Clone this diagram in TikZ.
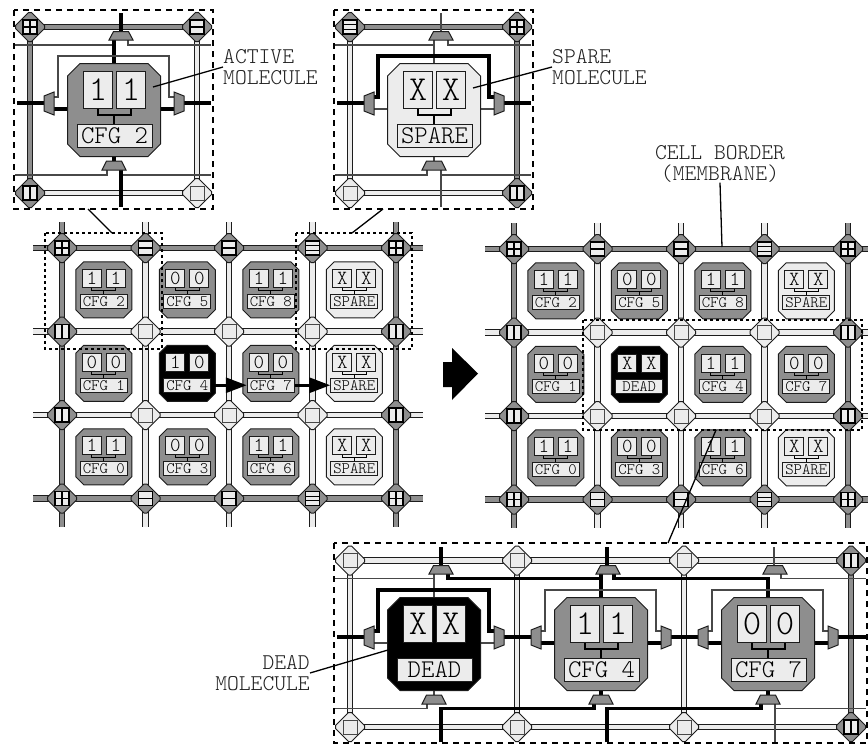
\documentclass[tikz,border=0pt]{standalone}
\usepackage{tikz}
\usetikzlibrary{arrows.meta}
\definecolor{my_gray}{HTML}{8E8E8E}
\definecolor{my_light}{HTML}{ECECEC}
\definecolor{my_edge}{HTML}{1C1C1C}
\definecolor{my_thin}{HTML}{484848}
\definecolor{my_text}{HTML}{202020}

\tikzset{
    wire/.style={draw=my_edge, line width=1.1pt, double=#1, double distance=4.2pt},
    routerbody/.style={draw=my_edge, line width=1pt, fill=#1},
    pane/.style={draw=black, line width=1.1pt, fill=my_light},
    emptypane/.style={draw=my_thin, line width=1pt, fill=my_light},
    cellbody/.style={draw=my_edge, line width=1pt, fill=#1},
    muxbody/.style={draw=my_edge, line width=1pt, fill=my_gray},
    thicksig/.style={black, line width=3.2pt, line cap=butt},
    thinsig/.style={my_thin, line width=1.1pt},
    bracket/.style={black, line width=1.2pt},
    digitsmall/.style={draw=my_edge, line width=1pt, fill=my_light, minimum width=19pt, minimum height=18pt,
        inner sep=0pt, font=\ttfamily\fontseries{l}\fontsize{20}{20}\selectfont},
    labelsmall/.style={draw=my_edge, line width=1pt, fill=my_light, minimum width=47pt, minimum height=14pt,
        inner sep=0pt, font=\ttfamily\fontseries{l}\fontsize{16}{16}\selectfont},
    digitbig/.style={draw=my_edge, line width=1pt, fill=my_light, minimum width=29pt, minimum height=37pt,
        inner sep=0pt, font=\ttfamily\fontseries{l}\fontsize{35}{35}\selectfont},
    labelbig/.style={draw=my_edge, line width=1pt, fill=my_light, minimum width=75pt, minimum height=23pt,
        inner sep=0pt, font=\ttfamily\fontseries{l}\fontsize{25.5}{25.5}\selectfont},
    calltext/.style={text=my_text, inner sep=0pt, font=\ttfamily\fontseries{l}\fontsize{22.5}{21}\selectfont},
    leader/.style={black, line width=1.3pt},
    dashbox/.style={black, line width=1.6pt, dash pattern=on 6pt off 5pt},
    dotbox/.style={black, line width=1.6pt, dash pattern=on 3pt off 3pt},
    shiftarrow/.style={black, line width=3pt, -{Triangle[length=21pt, width=15pt]}}
}

% ---- Router glyphs (one per configuration) ----
\newcommand{\GlyphP}{\draw[pane] (-7,-7) rectangle (7,7); \draw[pane] (-7,0) -- (7,0); \draw[pane] (0,-7) -- (0,7);}
\newcommand{\GlyphH}{\draw[pane] (-7,-7) rectangle (7,7); \draw[pane] (-7,0) -- (7,0);}
\newcommand{\GlyphT}{\draw[pane] (-7,-7) rectangle (7,7); \draw[pane] (-7,-2.4) -- (7,-2.4); \draw[pane] (-7,2.4) -- (7,2.4);}
\newcommand{\GlyphV}{\draw[pane] (-7,-7) rectangle (7,7); \draw[pane] (0,-7) -- (0,7);}
\newcommand{\GlyphE}{\draw[emptypane] (-7,-7) rectangle (7,7);}

% #1 x, #2 y, #3 fill, #4 glyph letter
\newcommand{\Router}[4]{
    \begin{scope}[shift={(#1,#2)}]
        \draw[routerbody=#3] (-14.5,-1.5) -- (-1.5,-14.5) -- (1.5,-14.5) -- (14.5,-1.5)
            -- (14.5,1.5) -- (1.5,14.5) -- (-1.5,14.5) -- (-14.5,1.5) -- cycle;
        \csname Glyph#4\endcsname
    \end{scope}
}

% #1 name, #2 col, #3 row, #4 fill, #5 #6 digits, #7 label
\newcommand{\SmallCell}[7]{
    \begin{scope}[shift={({#2*83.5+41.75},{#3*83.5+41.75})}]
        \draw[cellbody=#4] (-20,-28) -- (20,-28) -- (28,-20) -- (28,20) -- (20,28)
            -- (-20,28) -- (-28,20) -- (-28,-20) -- cycle;
        \draw[bracket] (-12,-2) -- (-12,1) -- (12,1) -- (12,-2) (0,1) -- (0,5);
        \node[digitsmall] (#1a) at (-12,-11) {#5};
        \node[digitsmall] (#1b) at (12,-11) {#6};
        \node[labelsmall] (#1) at (0,12) {#7};
    \end{scope}
}

% #1 name, #2 cx, #3 cy, #4 fill, #5 #6 digits, #7 label, #8 loop style
\newcommand{\BigCell}[8]{
    \begin{scope}[shift={(#2,#3)}]
        \draw[#8] (-60,-13) -- (-56,-13) -- (-56,-54) -- (55,-54) -- (55,-13) -- (60,-13);
        \draw[cellbody=#4] (-34,-46.5) -- (34,-46.5) -- (46.5,-34) -- (46.5,34) -- (34,46.5)
            -- (-34,46.5) -- (-46.5,34) -- (-46.5,-34) -- cycle;
        \draw[bracket] (-16,-2) -- (-16,5) -- (17,5) -- (17,-2) (0,5) -- (0,14);
        \node[digitbig] (#1a) at (-16,-20.5) {#5};
        \node[digitbig] (#1b) at (17,-20.5) {#6};
        \node[labelbig] (#1) at (0.5,25.5) {#7};
    \end{scope}
}

% #1 cx, #2 cy: the four multiplexers round one molecule
\newcommand{\MuxSet}[2]{
    \begin{scope}[shift={(#1,#2)}]
        \draw[muxbody] (-0.5,-78.5) -- (14.5,-78.5) -- (19,-70) -- (-5,-70) -- cycle;
        \draw[muxbody] (-7.5,51) -- (7.5,51) -- (12,60) -- (-12,60) -- cycle;
        \draw[muxbody] (-70,-14) -- (-60,-18) -- (-60,5) -- (-70,1) -- cycle;
        \draw[muxbody] (70,-14) -- (60,-18) -- (60,5) -- (70,1) -- cycle;
    \end{scope}
}

% #1 x0, #2 y0: membrane wires and routers of one fabric
\newcommand{\Fabric}[2]{
    \begin{scope}[shift={(#1,#2)}]
        \foreach \row/\tone in {0/my_gray, 1/my_light, 2/my_light, 3/my_gray}
            \draw[wire=\tone] (-29,{\row*83.5}) -- (361,{\row*83.5});
        \foreach \col/\tone in {0/my_gray, 1/my_light, 2/my_light, 3/my_light, 4/my_gray}
            \draw[wire=\tone] ({\col*83.5},-26) -- ({\col*83.5},279);
        \foreach \col/\kind in {0/P, 1/H, 2/H, 3/T, 4/P} {
            \Router{\col*83.5}{0}{my_gray}{\kind}
            \Router{\col*83.5}{250.5}{my_gray}{\kind}
        }
        \foreach \row in {83.5, 167} {
            \Router{0}{\row}{my_gray}{V}
            \Router{83.5}{\row}{my_light}{E}
            \Router{167}{\row}{my_light}{E}
            \Router{250.5}{\row}{my_light}{E}
            \Router{334}{\row}{my_gray}{V}
        }
    \end{scope}
}

\begin{document}
\begin{tikzpicture}[x=1pt, y=-1pt]

\clip (0,0) rectangle (868,744);

% ---- Left fabric, before the fault ----
\Fabric{62}{248}
\begin{scope}[shift={(62,248)}]
    \SmallCell{lCfgTwo}{0}{0}{my_gray}{1}{1}{CFG 2}
    \SmallCell{lCfgFive}{1}{0}{my_gray}{0}{0}{CFG 5}
    \SmallCell{lCfgEight}{2}{0}{my_gray}{1}{1}{CFG 8}
    \SmallCell{lSpareA}{3}{0}{my_light}{X}{X}{SPARE}
    \SmallCell{lCfgOne}{0}{1}{my_gray}{0}{0}{CFG 1}
    \SmallCell{lCfgFour}{1}{1}{black}{1}{0}{CFG 4}
    \SmallCell{lCfgSeven}{2}{1}{my_gray}{0}{0}{CFG 7}
    \SmallCell{lSpareB}{3}{1}{my_light}{X}{X}{SPARE}
    \SmallCell{lCfgZero}{0}{2}{my_gray}{1}{1}{CFG 0}
    \SmallCell{lCfgThree}{1}{2}{my_gray}{0}{0}{CFG 3}
    \SmallCell{lCfgSix}{2}{2}{my_gray}{1}{1}{CFG 6}
    \SmallCell{lSpareC}{3}{2}{my_light}{X}{X}{SPARE}
\end{scope}
\draw[shiftarrow] (lCfgFour.east) -- (lCfgSeven.west);
\draw[shiftarrow] (lCfgSeven.east) -- (lSpareB.west);

% ---- Right fabric, after the shift ----
\Fabric{514}{249}
\begin{scope}[shift={(514,249)}]
    \SmallCell{rCfgTwo}{0}{0}{my_gray}{1}{1}{CFG 2}
    \SmallCell{rCfgFive}{1}{0}{my_gray}{0}{0}{CFG 5}
    \SmallCell{rCfgEight}{2}{0}{my_gray}{1}{1}{CFG 8}
    \SmallCell{rSpareA}{3}{0}{my_light}{X}{X}{SPARE}
    \SmallCell{rCfgOne}{0}{1}{my_gray}{0}{0}{CFG 1}
    \SmallCell{rDead}{1}{1}{black}{X}{X}{DEAD}
    \SmallCell{rCfgFour}{2}{1}{my_gray}{1}{1}{CFG 4}
    \SmallCell{rCfgSeven}{3}{1}{my_gray}{0}{0}{CFG 7}
    \SmallCell{rCfgZero}{0}{2}{my_gray}{1}{1}{CFG 0}
    \SmallCell{rCfgThree}{1}{2}{my_gray}{0}{0}{CFG 3}
    \SmallCell{rCfgSix}{2}{2}{my_gray}{1}{1}{CFG 6}
    \SmallCell{rSpareC}{3}{2}{my_light}{X}{X}{SPARE}
\end{scope}

% ---- Block arrow between the fabrics ----
\fill[black] (443,362) -- (452,362) -- (452,348) -- (478,373.5) -- (452,400) -- (452,387) -- (443,387) -- cycle;

% ---- Top left enlargement: active molecule ----
\draw[wire=my_gray] (30,27) -- (197,27);
\draw[wire=my_light] (30,193) -- (197,193);
\draw[wire=my_gray] (30,27) -- (30,193);
\draw[wire=my_light] (197,27) -- (197,193);
\draw[thinsig] (15,45) -- (114,45);
\draw[thinsig] (128,40) -- (128,45) -- (211,45);
\draw[thinsig] (107,170) -- (107,175) -- (15,175);
\draw[thinsig] (121,175) -- (211,175);
\draw[thicksig] (17,103) -- (44,103);
\draw[thicksig] (184,103) -- (211,103);
\draw[thicksig] (121,13) -- (121,32);
\draw[thicksig] (114,40) -- (114,64);
\draw[thicksig] (54,109) -- (68,109);
\draw[thicksig] (160,109) -- (174,109);
\draw[thicksig] (114,157) -- (114,161);
\draw[thicksig] (121,170) -- (121,207);
\Router{30}{27}{my_gray}{P}
\Router{197}{27}{my_gray}{H}
\Router{30}{193}{my_gray}{V}
\Router{197}{193}{my_light}{E}
\BigCell{pActive}{114}{110}{my_gray}{1}{1}{CFG 2}{thinsig}
\MuxSet{114}{110}

% ---- Top middle enlargement: spare molecule ----
\draw[wire=my_gray] (350,27) -- (517,27);
\draw[wire=my_light] (350,193) -- (517,193);
\draw[wire=my_light] (350,27) -- (350,193);
\draw[wire=my_gray] (517,27) -- (517,193);
\draw[thinsig] (335,45) -- (434,45);
\draw[thinsig] (448,40) -- (448,45) -- (531,45);
\draw[thinsig] (427,170) -- (427,175) -- (335,175);
\draw[thinsig] (441,175) -- (531,175);
\draw[thinsig] (441,13) -- (441,32);
\draw[thinsig] (434,40) -- (434,64);
\draw[thinsig] (374,109) -- (388,109);
\draw[thinsig] (480,109) -- (494,109);
\draw[thinsig] (434,157) -- (434,161);
\draw[thinsig] (441,170) -- (441,207);
\draw[thicksig] (337,103) -- (364,103);
\draw[thicksig] (504,103) -- (531,103);
\Router{350}{27}{my_gray}{T}
\Router{517}{27}{my_gray}{P}
\Router{350}{193}{my_light}{E}
\Router{517}{193}{my_gray}{V}
\BigCell{pSpare}{434}{110}{my_light}{X}{X}{SPARE}{thicksig}
\MuxSet{434}{110}

% ---- Bottom enlargement: dead molecule and its two neighbours ----
\draw[wire=my_light] (350,560.5) -- (851,560.5);
\draw[wire=my_light] (350,727) -- (851,727);
\foreach \col/\tone in {350/my_light, 517/my_light, 684/my_light, 851/my_gray}
    \draw[wire=\tone] (\col,560.5) -- (\col,727);
\draw[thinsig] (335,578.5) -- (434,578.5);
\draw[thinsig] (434,573) -- (434,598);
\draw[thinsig] (781,573) -- (781,578.5) -- (866,578.5);
\draw[thinsig] (427,704) -- (427,708.5) -- (335,708.5);
\draw[thinsig] (775,704) -- (775,742);
\draw[thinsig] (775,708.5) -- (866,708.5);
\draw[thinsig] (774,547) -- (774,566);
\draw[thinsig] (374,643) -- (388,643);
\draw[thinsig] (480,643) -- (494,643);
\draw[thinsig] (434,690) -- (434,695);
\draw[thicksig] (441,547) -- (441,566);
\draw[thicksig] (607,547) -- (607,566);
\draw[thicksig] (337,637) -- (364,637);
\draw[thicksig] (504,637) -- (531,637);
\draw[thicksig] (671,637) -- (698,637);
\draw[thicksig] (838,637) -- (866,637);
\draw[thicksig] (541,643) -- (555,643);
\draw[thicksig] (647,643) -- (661,643);
\draw[thicksig] (708,643) -- (722,643);
\draw[thicksig] (814,643) -- (828,643);
\draw[thicksig] (448,573) -- (448,578.5) -- (601,578.5);
\draw[thicksig] (614,573) -- (614,578.5) -- (768,578.5) -- (768,598);
\draw[thicksig] (601,573) -- (601,598);
\draw[thicksig] (601,690) -- (601,695);
\draw[thicksig] (768,690) -- (768,695);
\draw[thicksig] (441,742) -- (441,708.5) -- (594,708.5) -- (594,704);
\draw[thicksig] (607,742) -- (607,708.5) -- (761,708.5) -- (761,704);
\Router{350}{560.5}{my_light}{E}
\Router{517}{560.5}{my_light}{E}
\Router{684}{560.5}{my_light}{E}
\Router{851}{560.5}{my_gray}{V}
\Router{350}{727}{my_light}{E}
\Router{517}{727}{my_light}{E}
\Router{684}{727}{my_light}{E}
\Router{851}{727}{my_gray}{V}
\BigCell{pDead}{434}{644}{black}{X}{X}{DEAD}{thicksig}
\BigCell{pFour}{601}{644}{my_gray}{1}{1}{CFG 4}{thinsig}
\BigCell{pSeven}{768}{644}{my_gray}{0}{0}{CFG 7}{thinsig}
\MuxSet{434}{644}
\MuxSet{601}{644}
\MuxSet{768}{644}

% ---- Frames of the enlargements and their sources ----
\draw[dashbox] (14,10) rectangle (213,209);
\draw[dashbox] (334,10) rectangle (533,209);
\draw[dashbox] (334,543) rectangle (867,743);
\draw[dotbox] (45,233) rectangle (162,349);
\draw[dotbox] (296,233) rectangle (412,349);
\draw[dotbox] (583,320) rectangle (862,430);

\coordinate (srcActive) at (112,233);
\coordinate (srcSpare)  at (352,233);
\coordinate (srcDead)   at (716,430);
\coordinate (zoomActive) at (88,209);
\coordinate (zoomSpare)  at (383,209);
\coordinate (zoomDead)   at (668,543);
\draw[leader] (zoomActive) -- (srcActive);
\draw[leader] (zoomSpare) -- (srcSpare);
\draw[leader] (zoomDead) -- (srcDead);

% ---- Call-outs ----
\node[calltext, align=left, anchor=west] (txtActive) at (223,67) {ACTIVE\\MOLECULE};
\node[calltext, align=left, anchor=west] (txtSpare) at (552,67) {SPARE\\MOLECULE};
\node[calltext, align=center] (txtBorder) at (720,164) {CELL BORDER\\(MEMBRANE)};
\node[calltext, align=right, anchor=east] (txtDead) at (310,673) {DEAD\\MOLECULE};

\coordinate (tipActive) at (153,87);
\coordinate (tipSpare)  at (473,88);
\coordinate (tipBorder) at (722,247);
\coordinate (tipDead)   at (388,650);
\draw[leader] (tipActive) -- (txtActive.west);
\draw[leader] (tipSpare) -- (txtSpare.west);
\draw[leader] (tipBorder) -- (txtBorder.south);
\draw[leader] (tipDead) -- (txtDead.east);

\end{tikzpicture}
\end{document}
